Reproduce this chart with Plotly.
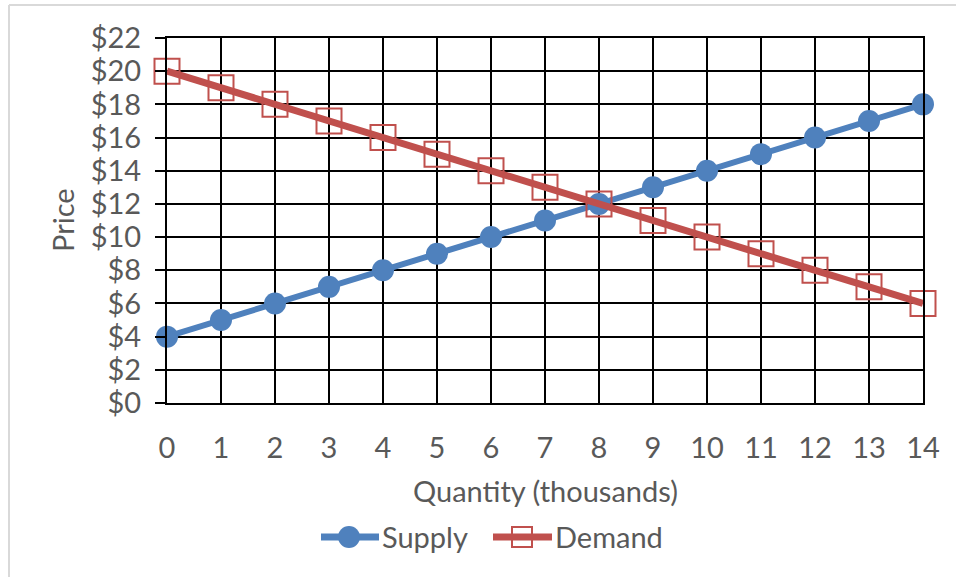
import plotly.graph_objects as go

# Market data: quantity in thousands, prices in dollars
quantity = list(range(0, 15))
supply_price = [4, 5, 6, 7, 8, 9, 10, 11, 12, 13, 14, 15, 16, 17, 18]
demand_price = [20, 19, 18, 17, 16, 15, 14, 13, 12, 11, 10, 9, 8, 7, 6]
y_ticks = list(range(0, 23, 2))
y_tick_text = [f"${v}" for v in y_ticks]

W, H = 956, 577
L, R, T, B = 167, 33, 38, 174
pw, ph = W - L - R, H - T - B

FONT = "Lato"
FS = 29
GREY = "#595959"
BLUE = "#4F81BD"
RED = "#C0504D"

fig = go.Figure()
fig.add_trace(go.Scatter(
    x=quantity, y=supply_price, name="Supply", mode="lines+markers",
    line=dict(color=BLUE, width=6),
    marker=dict(symbol="circle", size=22, color=BLUE),
    cliponaxis=False, showlegend=False,
))
fig.add_trace(go.Scatter(
    x=quantity, y=demand_price, name="Demand", mode="lines+markers",
    line=dict(color=RED, width=7),
    marker=dict(symbol="square-open", size=25, color=RED, line=dict(width=2)),
    cliponaxis=False, showlegend=False,
))


def px(xpix):
    return (xpix - L) / pw


def py(ypix):
    return (H - B - ypix) / ph


def pline(x0, y0, x1, y1, color, width, layer="above"):
    fig.add_shape(type="line", xref="paper", yref="paper",
                  x0=px(x0), x1=px(x1), y0=py(y0), y1=py(y1),
                  line=dict(color=color, width=width), layer=layer)


# light outer frame of the chart area
pline(9, 5, 960, 5, "#D9D9D9", 2, "below")
pline(9, 5, 9, 580, "#D9D9D9", 2, "below")

# legend: line sample with marker, then series name
LY = 537
pline(321, LY, 379, LY, BLUE, 7)
fig.add_shape(type="circle", xref="paper", yref="paper",
              x0=px(338), x1=px(360), y0=py(LY - 11), y1=py(LY + 11),
              fillcolor=BLUE, line=dict(color=BLUE, width=0))
pline(493, LY, 552, LY, RED, 7)
fig.add_shape(type="rect", xref="paper", yref="paper",
              x0=px(512), x1=px(532), y0=py(LY - 10), y1=py(LY + 10),
              fillcolor="rgba(0,0,0,0)", line=dict(color=RED, width=2))
for name, x_left in (("Supply", 380), ("Demand", 553)):
    fig.add_annotation(text=name, xref="paper", yref="paper", x=px(x_left), y=py(LY - 1),
                       xanchor="left", yanchor="middle", showarrow=False,
                       font=dict(family=FONT, size=FS, color=GREY))

# axis titles
fig.add_annotation(text="Quantity (thousands)", xref="paper", yref="paper",
                   x=px(545), y=py(491), xanchor="center", yanchor="middle",
                   showarrow=False, font=dict(family=FONT, size=FS, color=GREY))
fig.add_annotation(text="Price", xref="paper", yref="paper", textangle=-90,
                   x=px(63), y=py(220), xanchor="center", yanchor="middle",
                   showarrow=False, font=dict(family=FONT, size=FS, color=GREY))

fig.update_xaxes(
    range=[0, 14], tickvals=quantity, showgrid=True, gridcolor="black", gridwidth=2,
    showline=True, linecolor="black", linewidth=2, mirror=True,
    zeroline=False, ticks="", ticklabelstandoff=18,
    tickfont=dict(family=FONT, size=FS, color=GREY),
)
fig.update_yaxes(
    range=[0, 22], tickvals=y_ticks, ticktext=y_tick_text,
    showgrid=True, gridcolor="black", gridwidth=2,
    showline=True, linecolor="black", linewidth=2, mirror=True,
    zeroline=False, ticks="outside", ticklen=10, tickwidth=2, tickcolor="black",
    ticklabelstandoff=8,
    tickfont=dict(family=FONT, size=FS, color=GREY),
)

fig.update_layout(
    width=W, height=H,
    margin=dict(l=L, r=R, t=T, b=B, autoexpand=False),
    paper_bgcolor="white", plot_bgcolor="white",
    showlegend=False,
)

fig.write_html("out.html")
